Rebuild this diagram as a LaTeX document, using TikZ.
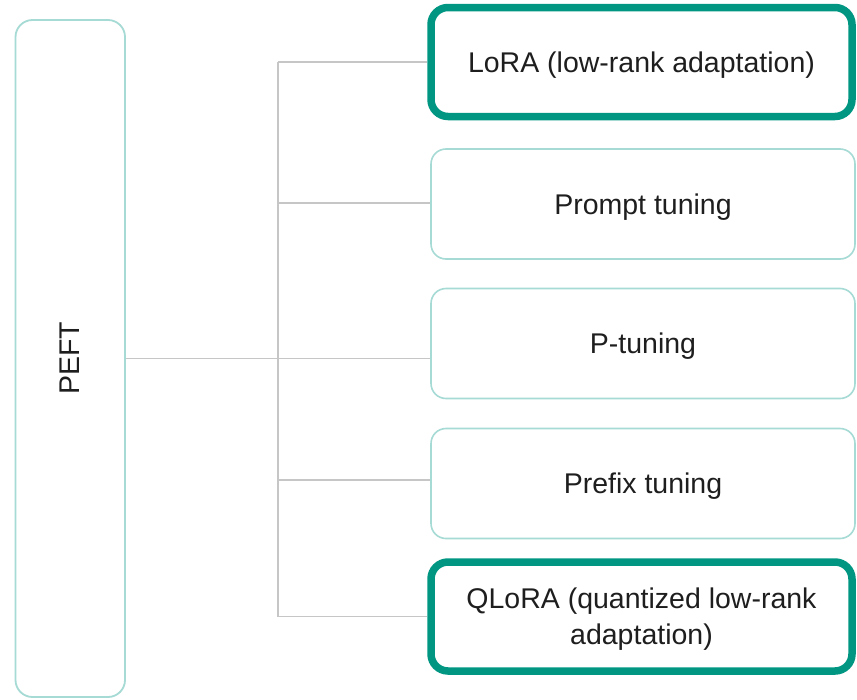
\documentclass[tikz,border=0pt]{standalone}
\usepackage{fontspec}
\setmainfont{Liberation Sans}
\definecolor{darkteal}{HTML}{009682}
\definecolor{lightteal}{HTML}{A6DAD4}
\definecolor{conngray}{HTML}{C6C6C6}
\definecolor{txt}{HTML}{1E1E1E}
\tikzset{
  x=1pt, y=-1pt,
  every node/.style={text=txt, font=\fontsize{28.5}{36}\selectfont, inner sep=0pt},
  thinbox/.style={draw=lightteal, line width=1.6pt, rounded corners=15pt, minimum width=424pt, minimum height=110pt, align=center, text depth=0pt},
  thickbox/.style={draw=darkteal, line width=7.5pt, rounded corners=17pt, minimum width=421pt, minimum height=109pt, align=center, text depth=0pt},
  rootbox/.style={draw=lightteal, line width=1.8pt, rounded corners=17pt, minimum width=109.5pt, minimum height=677pt},
  conn/.style={draw=conngray, line width=1.6pt}
}
\begin{document}
\begin{tikzpicture}
\useasboundingbox (0,0) rectangle (857,699);
\node[rootbox] (peft) at (70.25,358.5) {};
\node[rotate=90] (pefttext) at (70,358.5) {PEFT};
\node[thickbox] (lora) at (641.5,62) {LoRA (low-rank adaptation)};
\node[thinbox] (prompt) at (643,204) {Prompt tuning};
\node[thinbox] (ptune) at (643,343.5) {P-tuning};
\node[thinbox] (prefix) at (643,483.5) {Prefix tuning};
\node[thickbox] (qlora) at (641.5,616.5) {QLoRA (quantized low-rank\\adaptation)};
\coordinate (t1) at (278,62);
\coordinate (t2) at (278,203);
\coordinate (t3) at (278,358.5);
\coordinate (t4) at (278,480);
\coordinate (t5) at (278,616.5);
\draw[conn] (t1) -- (t5);
\draw[conn] (t1) -- (lora.west);
\draw[conn] (t2) -- (t2 -| prompt.west);
\draw[conn] (peft.east) -- (peft.east -| ptune.west);
\draw[conn] (t4) -- (t4 -| prefix.west);
\draw[conn] (t5) -- (qlora.west);
\end{tikzpicture}
\end{document}
